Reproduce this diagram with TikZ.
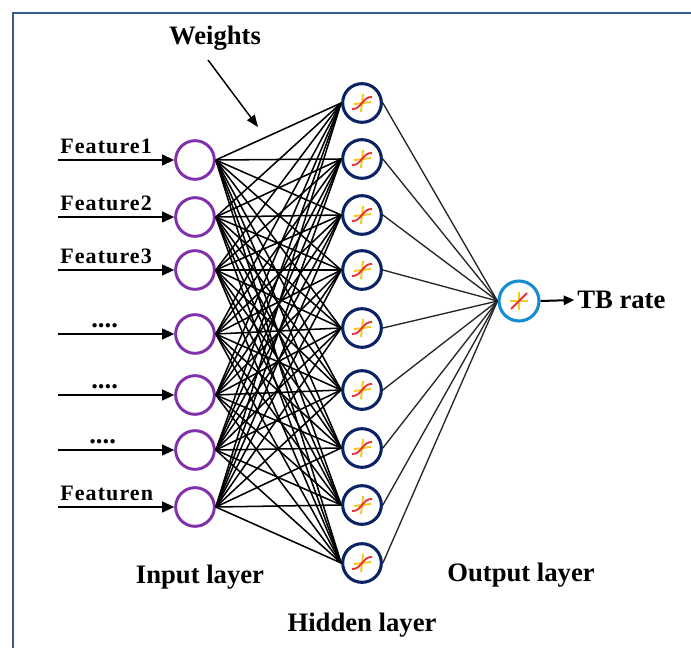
\documentclass[tikz,border=0pt]{standalone}
\usepackage{fontspec}
\setmainfont{Liberation Serif}
\newfontfamily\featfont[LetterSpace=5]{Liberation Serif}
\usetikzlibrary{arrows.meta}
\definecolor{framec}{RGB}{55,90,145}
\definecolor{inc}{RGB}{128,48,170}
\definecolor{hidc}{RGB}{10,35,100}
\definecolor{outc}{RGB}{20,140,210}
\definecolor{sigred}{RGB}{235,50,60}
\definecolor{sigyel}{RGB}{250,200,20}
\tikzset{
  innode/.style={circle,draw=inc,line width=2.2pt,minimum size=29pt,inner sep=0pt},
  hidnode/.style={circle,draw=hidc,line width=2.3pt,minimum size=29pt,inner sep=0pt},
  outnode/.style={circle,draw=outc,line width=2.3pt,minimum size=30pt,inner sep=0pt},
  conn/.style={line width=1.15pt,black},
  oconn/.style={line width=1pt,black!85},
  inarrow/.style={line width=1.5pt,-{Triangle[length=9pt,width=8pt]}},
  lbl/.style={font=\bfseries\fontsize{20}{24}\selectfont,inner sep=0pt},
  flbl/.style={font=\featfont\bfseries\fontsize{16.5}{20}\selectfont,inner sep=0pt,anchor=south west},
  dots/.style={font=\bfseries\fontsize{20}{24}\selectfont,inner sep=0pt,anchor=south west},
}
\begin{document}
\begin{tikzpicture}[x=0.75pt,y=-0.75pt]
\useasboundingbox (0,0) rectangle (691,648);
\clip (0,0) rectangle (691,648);
\fill[white] (0,0) rectangle (691,648);
\draw[framec,line width=1.8pt] (13,13) rectangle (720,680);

% input nodes
\foreach \i/\y in {1/160,2/217,3/270,4/334,5/395,6/450,7/507}
  \node[innode] (i\i) at (195,\y) {};
% hidden nodes
\foreach \j/\y in {1/103,2/159,3/215,4/270,5/328,6/390,7/448,8/505,9/563}
  \node[hidnode] (h\j) at (362,\y) {};
% output node
\node[outnode] (o) at (519,301) {};

% connections
\foreach \i in {1,...,7}
  \foreach \j in {1,...,9}
    \draw[conn] (i\i.east) -- (h\j.west);
\foreach \j in {1,...,9}
  \draw[oconn] (h\j.east) -- (o.west);

% sigmoid symbols
\foreach \j in {1,...,9}{
  \draw[sigyel,line width=1.4pt] ([shift={(-8,1)}]h\j.center) -- ([shift={(9,-1)}]h\j.center);
  \draw[sigyel,line width=1.4pt] ([shift={(1,-9)}]h\j.center) -- ([shift={(-1,9)}]h\j.center);
  \draw[sigred,line width=1.4pt] ([shift={(-10,6)}]h\j.center) .. controls ([shift={(-1,7)}]h\j.center) and ([shift={(1,-7)}]h\j.center) .. ([shift={(10,-6)}]h\j.center);
}
\draw[sigyel,line width=1.4pt] ([shift={(-9,0)}]o.center) -- ([shift={(9,0)}]o.center);
\draw[sigyel,line width=1.4pt] ([shift={(0,-9)}]o.center) -- ([shift={(0,9)}]o.center);
\draw[sigred,line width=1.4pt] ([shift={(-8,8)}]o.center) -- ([shift={(8,-8)}]o.center);

% input arrows and labels
\foreach \i/\y in {1/160,2/217,3/270,4/334,5/395,6/450,7/507}{
  \coordinate (s\i) at (58,\y);
  \draw[inarrow] (s\i) -- (i\i.west);
}
\node[flbl] (f1) at (60,154) {Feature1};
\node[flbl] (f2) at (60,211) {Feature2};
\node[flbl] (f3) at (60,264) {Feature3};
\node[dots] (d1) at (91,328) {....};
\node[dots] (d2) at (91,389) {....};
\node[dots] (d3) at (89,444) {....};
\node[flbl] (fn) at (60,501) {Featuren};

% weights
\node[lbl] (w) at (215,38) {Weights};
\coordinate (wt) at (258,127);
\draw[line width=1.1pt,-{Triangle[length=9pt,width=7pt]}] (208,60) -- (wt);

% output
\node[lbl,anchor=west] (tb) at (577,300) {TB rate};
\draw[line width=1.5pt,-{Triangle[length=8pt,width=7pt]}] (o.east) -- ([xshift=-2pt]tb.west);

% layer labels
\node[lbl] (il) at (200,577) {Input layer};
\node[lbl] (ol) at (521,575) {Output layer};
\node[lbl] (hl) at (362,625) {Hidden layer};
\end{tikzpicture}
\end{document}
